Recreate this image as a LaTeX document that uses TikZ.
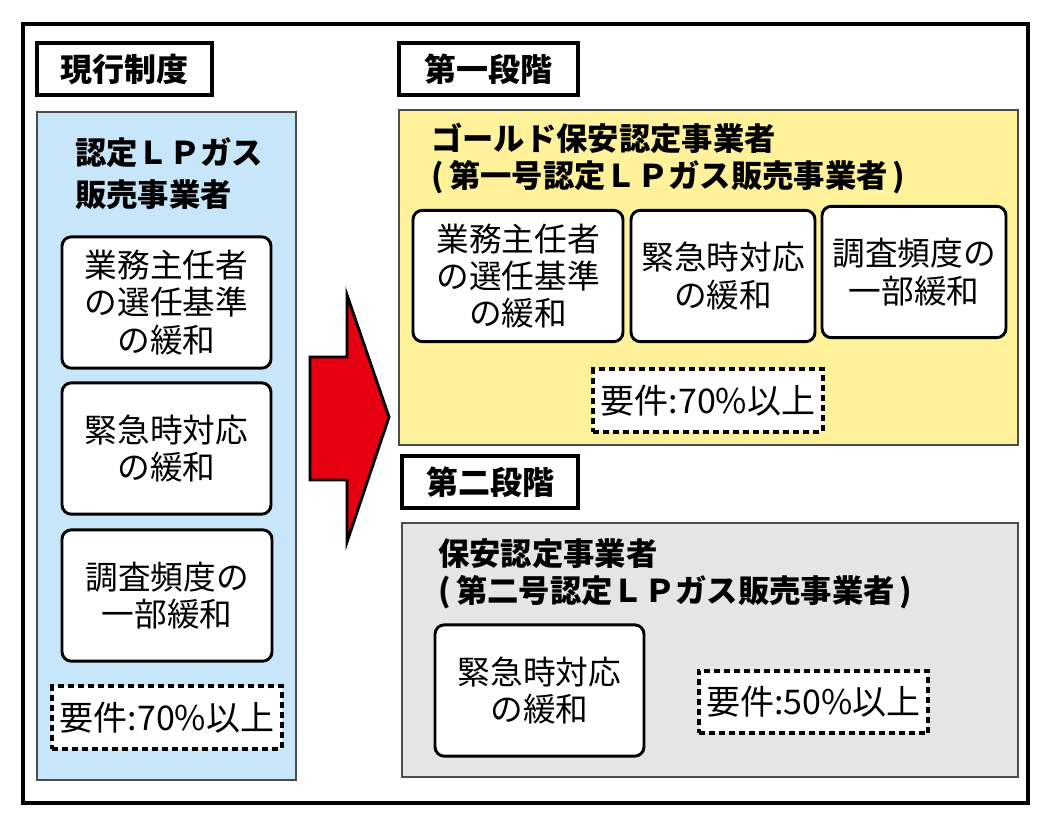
\documentclass[tikz,border=0pt]{standalone}
\usepackage{fontspec}
\setmainfont{Noto Sans CJK JP}
\usepackage{tikz}
\usepackage{xcolor}

\definecolor{panelblue}{RGB}{200,230,250}
\definecolor{panelyellow}{RGB}{255,242,155}
\definecolor{panelgray}{RGB}{229,229,229}
\definecolor{arrowred}{RGB}{230,0,18}

\begin{document}
\begin{tikzpicture}[x=0.75pt, y=-0.75pt,
    tag/.style={draw, line width=2.6pt, fill=white, inner sep=0pt,
        minimum height=39pt, font=\bfseries\fontsize{24pt}{28pt}\selectfont},
    panel/.style={draw=black!70, line width=1pt},
    head/.style={anchor=west, align=left, inner sep=0pt,
        font=\bfseries\fontsize{23.5pt}{28pt}\selectfont},
    item/.style={draw, fill=white, line width=2.2pt, rounded corners=7pt,
        align=center, inner sep=0pt, minimum height=98.5pt,
        font=\fontsize{24.5pt}{28pt}\selectfont},
    req/.style={draw, fill=white, dash pattern=on 4.5pt off 3pt,
        line width=2.8pt, inner sep=0pt, minimum width=172pt,
        minimum height=47pt, font=\fontsize{25.5pt}{28pt}\selectfont}]
    \useasboundingbox (0,0) rectangle (1052,827);

    % Frame
    \draw[line width=3pt] (23,24) rectangle (1028,803);

    % Current system
    \node[tag, minimum width=131pt] (nowtag) at (124.5,69) {現行制度};
    \draw[panel, fill=panelblue] (37,112) rectangle (296,780);
    \node[head, font=\bfseries\fontsize{23.5pt}{32pt}\selectfont] (nowhead) at (75,173.5)
        {認定ＬＰガス\\販売事業者};
    \node[item, minimum width=156.75pt] (nowa) at (166.5,302.5)
        {業務主任者\\の選任基準\\の緩和};
    \node[item, minimum width=156.75pt] (nowb) at (166.5,448.5)
        {緊急時対応\\の緩和};
    \node[item, minimum width=157.5pt] (nowc) at (167,595.5)
        {調査頻度の\\一部緩和};
    \node[req] (nowreq) at (167,717.5) {要件:70\%以上};

    % Arrow
    \draw[line width=2.2pt, fill=arrowred, line join=miter]
        (310,357) -- (347,357) -- (347,295) -- (389,417) -- (347,542)
        -- (347,480) -- (310,480) -- cycle;

    % First stage
    \node[tag, minimum width=134pt] (onetag) at (488.5,69) {第一段階};
    \draw[panel, fill=panelyellow] (399,110) rectangle (1018,445);
    \node[head] (onehead) at (431,158.5)
        {ゴールド保安認定事業者\\(\,第一号認定ＬＰガス販売事業者\,)};
    \node[item, minimum width=157.5pt] (onea) at (518,276)
        {業務主任者\\の選任基準\\の緩和};
    \node[item, minimum width=138pt] (oneb) at (723,276)
        {緊急時対応\\の緩和};
    \node[item, minimum width=138pt] (onec) at (914,272)
        {調査頻度の\\一部緩和};
    \node[req] (onereq) at (708,400.5) {要件:70\%以上};

    % Second stage
    \node[tag, minimum width=132pt] (twotag) at (490,482) {第二段階};
    \draw[panel, fill=panelgray] (402,523) rectangle (1018,777);
    \node[head] (twohead) at (438,574)
        {保安認定事業者\\(\,第二号認定ＬＰガス販売事業者\,)};
    \node[item, minimum width=156.75pt] (twoa) at (539.5,690.5)
        {緊急時対応\\の緩和};
    \node[req] (tworeq) at (813.5,702) {要件:50\%以上};
\end{tikzpicture}
\end{document}
